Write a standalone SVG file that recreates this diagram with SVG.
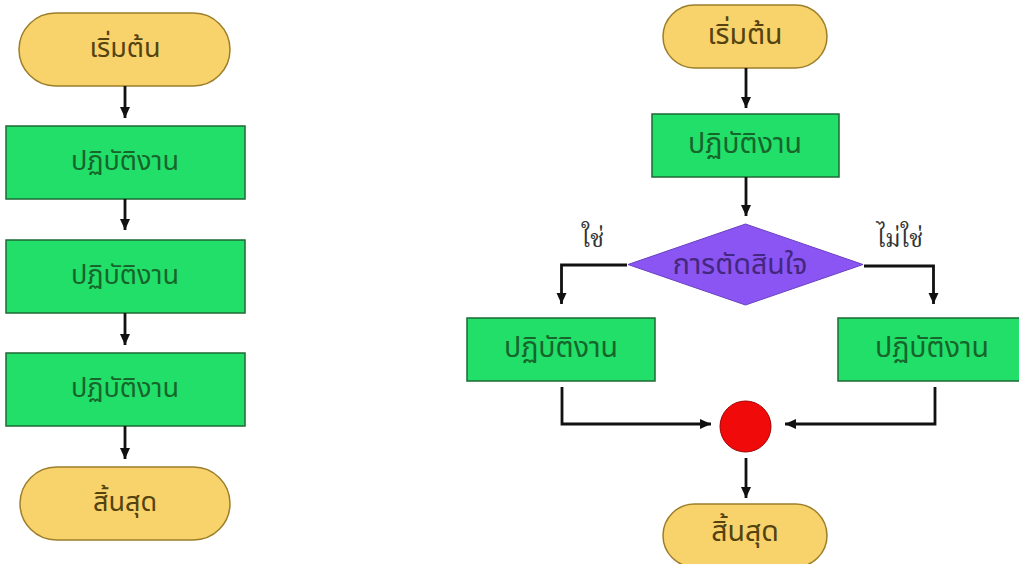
<svg xmlns="http://www.w3.org/2000/svg" width="1019" height="564" viewBox="0 0 1019 564">
<defs>
<marker id="ah" markerUnits="userSpaceOnUse" markerWidth="11" markerHeight="11" refX="11" refY="5.5" orient="auto">
<path d="M0,0.5 L11,5.5 L0,10.5 z" fill="#111"/>
</marker>
<style>
.term{fill:#F8D36C;stroke:#9C7E2A;stroke-width:1.5}
.proc{fill:#22DF6A;stroke:#1E6A35;stroke-width:1.5}
.dec{fill:#8A55F2;stroke:#6A40C0;stroke-width:1}
.jn{fill:#F00A0A;stroke:#A00000;stroke-width:1}
.t{font-family:Tahoma,"Noto Sans Thai","Noto Sans","DejaVu Sans",sans-serif;font-size:27px;text-anchor:middle;dominant-baseline:central}
.r{font-size:28.5px}
.tt{fill:#54430F}
.tp{fill:#17652A}
.td{fill:#45277F}
.lbl{font-family:"Noto Serif Thai","Liberation Serif","DejaVu Serif",serif;font-size:24px;fill:#333;text-anchor:middle;dominant-baseline:central}
.c{fill:none;stroke:#111;stroke-width:2.8;marker-end:url(#ah)}
</style>
</defs>
<rect width="1019" height="564" fill="#FFFFFF"/>
<g id="l-start"><rect class="term" x="19" y="13" width="211" height="73" rx="36.5"/><text class="t tt" x="125" y="48">เริ่มต้น</text></g>
<g id="l-p1"><rect class="proc" x="6" y="126" width="239" height="73"/><text class="t tp" x="125" y="161">ปฏิบัติงาน</text></g>
<g id="l-p2"><rect class="proc" x="6" y="240" width="239" height="73"/><text class="t tp" x="125" y="275">ปฏิบัติงาน</text></g>
<g id="l-p3"><rect class="proc" x="6" y="353" width="239" height="73"/><text class="t tp" x="125" y="388">ปฏิบัติงาน</text></g>
<g id="l-end"><rect class="term" x="20" y="467" width="210" height="73" rx="36.5"/><text class="t tt" x="125" y="502">สิ้นสุด</text></g>
<g id="r-start"><rect class="term" x="663" y="5" width="164" height="63" rx="31.5"/><text class="t r tt" x="745" y="35">เริ่มต้น</text></g>
<g id="r-p1"><rect class="proc" x="652" y="114" width="187" height="63"/><text class="t r tp" x="745" y="144">ปฏิบัติงาน</text></g>
<g id="r-dec"><polygon class="dec" points="745.5,224 863,264.5 745.5,305 628,264.5"/><text class="t r td" x="740" y="265">การตัดสินใจ</text></g>
<g id="r-yes"><rect class="proc" x="467" y="318" width="188" height="63"/><text class="t r tp" x="561" y="348">ปฏิบัติงาน</text></g>
<g id="r-no"><rect class="proc" x="838" y="318" width="188" height="63"/><text class="t r tp" x="932" y="348">ปฏิบัติงาน</text></g>
<g id="r-join"><circle class="jn" cx="745.5" cy="426.5" r="25.5"/></g>
<g id="r-end"><rect class="term" x="663" y="504" width="164" height="63" rx="31.5"/><text class="t r tt" x="745" y="532">สิ้นสุด</text></g>
<g id="connectors">
<path class="c" d="M125,86 V118"/>
<path class="c" d="M125,199 V230"/>
<path class="c" d="M125,313 V345"/>
<path class="c" d="M125,426 V459"/>
<path class="c" d="M746,68 V108"/>
<path class="c" d="M746,177 V216"/>
<path class="c" d="M627,265 H561.5 V304"/>
<path class="c" d="M864,266 H933.5 V304"/>
<path class="c" d="M562,387 V424 H711"/>
<path class="c" d="M935,387 V424 H785"/>
<path class="c" d="M746,458 V498"/>
<text class="lbl" x="593" y="240">ใช่</text>
<text class="lbl" x="900" y="240">ไม่ใช่</text>
</g>
</svg>
